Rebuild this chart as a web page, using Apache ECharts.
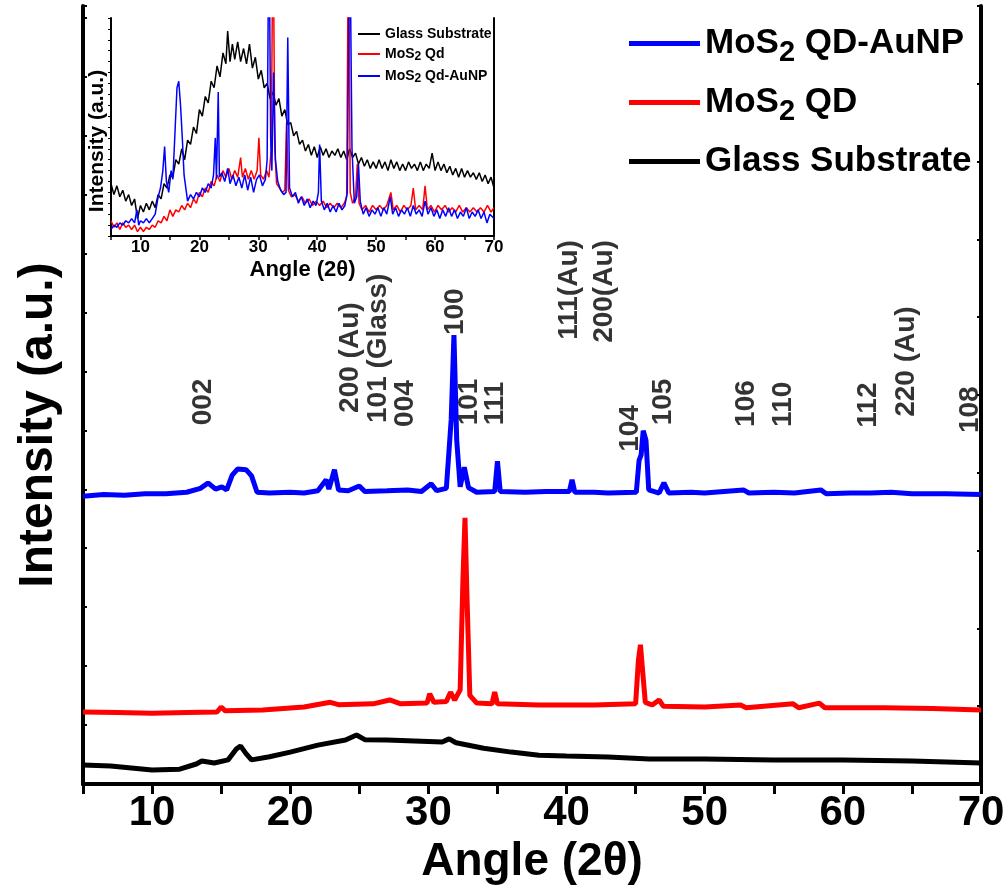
<!DOCTYPE html>
<html>
<head>
<meta charset="utf-8">
<script src="https://cdn.jsdelivr.net/npm/echarts@6/dist/echarts.min.js"></script>
<style>
  html, body { margin: 0; padding: 0; background: #fff; }
  #chart { width: 1008px; height: 890px; }
</style>
</head>
<body>
<div id="chart"></div>
<script>
// main panel data: [angle 2theta, intensity in a.u.]
var auNpMain = [[5,3.70],[6.5,3.72],[8,3.71],[9.5,3.73],[11,3.73],[12.5,3.75],[13.5,3.80],[14.05,3.87],[14.6,3.79],[15.05,3.82],[15.4,3.78],
  [15.8,3.97],[16.2,4.05],[16.8,4.04],[17.2,3.96],[17.6,3.75],[18.5,3.74],[20,3.75],[21,3.74],[22,3.77],[22.6,3.91],[22.8,3.79],[23.2,4.04],
  [23.5,3.78],[24.2,3.77],[25,3.83],[25.4,3.76],[27,3.77],[28.5,3.78],[29.5,3.76],[30.2,3.86],[30.6,3.77],[31.3,3.80],[31.65,4.68],[31.85,5.77],
  [32.05,4.42],[32.3,3.82],[32.6,4.07],[32.9,3.81],[33.5,3.75],[34.8,3.76],[35.0,4.15],[35.2,3.76],[37,3.75],[38.5,3.76],[40.2,3.76],[40.4,3.91],
  [40.6,3.75],[42,3.75],[43,3.74],[45.05,3.75],[45.25,4.16],[45.4,4.23],[45.55,4.54],[45.75,4.42],[45.95,3.78],[46.7,3.74],[47.05,3.87],
  [47.4,3.74],[49,3.75],[50,3.74],[52.8,3.78],[53.2,3.74],[55,3.75],[56.5,3.74],[58.4,3.78],[58.8,3.73],[60.5,3.74],[62,3.74],[63.5,3.75],
  [65,3.73],[67.5,3.73],[70,3.72]];
var qdMain = [[5,0.925],[7.5,0.92],[10,0.91],[12.5,0.92],[14.7,0.925],[15.0,0.99],[15.3,0.94],[18,0.95],[21,0.99],[22.9,1.05],[23.5,1.02],
  [26,1.03],[27.2,1.08],[28,1.03],[29.9,1.04],[30.1,1.16],[30.4,1.05],[31.3,1.06],[31.6,1.18],[31.9,1.08],[32.3,1.21],[32.5,2.62],[32.65,3.42],
  [32.8,2.37],[33.0,1.14],[33.5,1.04],[34.6,1.03],[34.8,1.18],[35.0,1.03],[38,1.015],[42,1.015],[45.0,1.03],[45.2,1.59],[45.35,1.79],
  [45.5,1.47],[45.7,1.05],[46.2,1.015],[46.7,1.08],[47.0,1.00],[50,0.99],[52.6,1.015],[53,0.98],[56.4,1.03],[56.8,0.98],[58.3,1.04],
  [58.7,0.98],[63,0.98],[66.5,0.97],[70,0.95]];
var glassMain = [[5,0.244],[7,0.23],[10,0.18],[12,0.19],[13.2,0.257],[13.6,0.296],[14.5,0.27],[15.5,0.31],[16.1,0.45],[16.4,0.49],[16.8,0.39],
  [17.2,0.31],[18.5,0.35],[20,0.41],[22,0.50],[24,0.566],[24.8,0.63],[25.4,0.57],[27,0.566],[29,0.553],[31,0.54],[31.5,0.58],[32,0.53],
  [34,0.46],[36,0.41],[38,0.37],[40,0.36],[43,0.347],[46,0.32],[50,0.32],[55,0.31],[60,0.31],[65,0.296],[70,0.27]];

// inset panel data
var glassInset = [[5,24],[5.5,19],[6,23],[6.5,18],[7,21],[7.5,16],[8,19],[8.5,14],[9,17],[9.5,8],[10,14],[10.5,11],[11,15],[11.5,12],[12,16],
  [12.5,13],[13,19],[13.5,17],[14,24],[14.5,22],[15,28],[15.5,27],[16,35],[16.5,33],[17,40],[17.5,35],[18,44],[18.5,42],[19,50],[19.5,47],
  [20,58],[20.5,55],[21,64],[21.5,61],[22,71],[22.5,68],[23,78],[23.5,73],[24,84],[24.5,79],[24.8,94],[25.2,80],[25.6,88],[26,81],[26.5,89],
  [27,80],[27.5,86],[28,79],[28.5,88],[29,77],[29.5,82],[30,72],[30.5,76],[31,68],[31.5,70],[32,63],[32.5,66],[33,60],[33.5,63],[34,55],
  [34.5,58],[35,51],[35.5,52],[36,46],[36.5,48],[37,42],[37.5,44],[38,39],[38.5,42],[39,37],[39.5,41],[40,36],[40.5,41],[41,37],[41.5,40],
  [42,36],[42.5,39],[43,37],[43.5,40],[44,36],[44.5,39],[45,35],[45.5,40],[46,36],[46.5,38],[47,33],[47.5,36],[48,32],[48.5,35],[49,31],
  [49.5,34],[50,31],[50.5,35],[51,31],[51.5,34],[52,30],[52.5,35],[53,31],[53.5,34],[54,30],[54.5,33],[55,30],[55.5,34],[56,31],[56.5,33],
  [57,30],[57.5,34],[58,30],[58.5,33],[59,31],[59.5,38],[60,30],[60.5,34],[61,30],[61.5,33],[62,29],[62.5,32],[63,28],[63.5,31],[64,27],
  [64.5,31],[65,27],[65.5,30],[66,27],[66.5,29],[67,26],[67.5,29],[68,25],[68.5,28],[69,24],[69.5,27],[70,22]];
var qdInset = [[5,7],[5.5,4],[6,6],[6.5,3],[7,6],[7.5,4],[8,5],[8.5,3],[9,5],[9.5,2],[10,4],[10.5,2],[11,4],[11.5,3],[12,5],[12.5,4],[13,7],
  [13.5,6],[14,9],[14.5,7],[15,12],[15.5,9],[16,12],[16.5,11],[17,14],[17.5,12],[18,15],[18.5,13],[19,17],[19.5,15],[20,20],[20.5,18],[21,22],
  [21.5,20],[22,25],[22.5,23],[23,28],[23.5,25],[24,30],[24.5,27],[25,31],[25.5,26],[26,30],[26.5,27],[27,36],[27.3,27],[27.8,31],[28.3,26],
  [28.8,30],[29.3,26],[29.8,30],[30.1,45],[30.4,28],[30.9,26],[31.4,30],[31.8,27],[32.2,40],[32.5,150],[32.8,40],[33.1,24],[33.6,22],
  [34.1,20],[34.5,21],[34.8,52],[35.1,21],[35.6,18],[36.2,19],[36.8,16],[37.4,18],[38,15],[38.6,17],[39.2,14],[39.8,16],[40.4,14],[41,16],
  [41.6,13],[42.2,15],[42.8,13],[43.4,15],[44,13],[44.6,15],[45.0,18],[45.3,150],[45.6,20],[46,15],[46.5,18],[46.8,33],[47.1,15],[47.6,12],
  [48.2,14],[48.8,11],[49.4,14],[50,12],[50.6,14],[51.2,12],[51.8,14],[52.5,20],[52.9,12],[53.5,14],[54.1,11],[54.7,14],[55.3,12],[55.9,14],
  [56.3,22],[56.7,12],[57.3,14],[57.9,12],[58.3,23],[58.7,12],[59.3,14],[59.9,11],[60.5,14],[61.1,12],[61.7,14],[62.3,11],[62.9,13],
  [63.5,11],[64.1,14],[64.7,11],[65.3,13],[65.9,11],[66.5,13],[67.1,11],[67.7,13],[68.3,11],[68.9,14],[69.5,11],[70,13]];
var auNpInset = [[5,3],[5.5,5],[6,4],[6.5,6],[7,5],[7.5,7],[8,6],[8.5,8],[9,6],[9.4,12],[9.7,5],[10,7],[10.5,6],[11,8],[11.5,6],[12,8],
  [12.5,10],[13,18],[13.4,22],[13.8,30],[14.1,41],[14.4,25],[14.8,20],[15.2,30],[15.5,26],[15.9,50],[16.2,68],[16.5,71],[16.8,60],[17.1,45],
  [17.4,28],[17.7,22],[18,16],[18.5,19],[19,17],[19.5,20],[20,18],[20.5,22],[21,20],[21.5,24],[22,22],[22.4,28],[22.7,45],[22.9,26],[23.2,66],
  [23.4,27],[23.8,29],[24.3,25],[24.8,31],[25.2,24],[25.7,28],[26.2,23],[26.7,27],[27.2,22],[27.7,28],[28.2,21],[28.7,27],[29.2,20],[29.7,26],
  [30.2,28],[30.7,23],[31.2,26],[31.5,35],[31.8,150],[32.1,45],[32.3,30],[32.6,75],[32.9,35],[33.3,25],[33.8,21],[34.3,19],[34.7,20],
  [35.0,91],[35.3,22],[35.8,18],[36.3,20],[36.8,15],[37.3,18],[37.8,14],[38.3,17],[38.8,13],[39.3,16],[39.8,14],[40.2,20],[40.4,42],
  [40.7,16],[41.2,12],[41.7,15],[42.2,11],[42.7,14],[43.2,11],[43.7,15],[44.2,12],[44.7,14],[45.1,20],[45.5,150],[45.9,40],[46.3,15],
  [46.7,18],[47.0,33],[47.3,16],[47.8,10],[48.3,13],[48.8,9],[49.3,12],[49.8,10],[50.3,13],[50.8,9],[51.3,13],[51.8,10],[52.4,18],[52.8,10],
  [53.3,13],[53.8,9],[54.3,12],[54.8,10],[55.3,13],[55.8,9],[56.3,14],[56.8,10],[57.3,12],[57.8,9],[58.3,16],[58.8,10],[59.3,13],[59.8,9],
  [60.3,12],[60.8,8],[61.3,12],[61.8,9],[62.3,13],[62.8,9],[63.3,12],[63.8,8],[64.3,11],[64.8,9],[65.3,13],[65.8,8],[66.3,11],[66.8,9],
  [67.3,12],[67.8,8],[68.3,11],[68.8,6],[69.3,10],[70,8]];

// peak indexing labels: name, angle, height where the text starts
var peakNames = ['002', '200 (Au)', '101 (Glass)', '004', '100', '101', '111', '111(Au)', '200(Au)', '104', '105', '106', '110', '112', '220 (Au)', '108'];
var peakAngles = [13.69, 24.33, 26.35, 28.31, 31.93, 32.94, 34.82, 40.18, 42.71, 44.59, 46.98, 52.99, 55.67, 61.82, 64.57, 69.2];
var peakLevels = [4.61, 4.77, 4.64, 4.59, 5.77, 4.61, 4.61, 5.71, 5.67, 4.27, 4.61, 4.59, 4.59, 4.58, 4.72, 4.51];

var xTicks = [10, 20, 30, 40, 50, 60, 70];

var chart = echarts.init(document.getElementById('chart'));

var legendNames = {
  'MoS2 QD-AuNP': '{n|MoS}{s|2}{n| QD-AuNP}',
  'MoS2 QD': '{n|MoS}{s|2}{n| QD}',
  'Glass Substrate': '{n|Glass Substrate}',
  'inset glass': '{n|Glass Substrate}',
  'inset qd': '{n|MoS}{s|2}{n| Qd}',
  'inset aunp': '{n|MoS}{s|2}{n| Qd-AuNP}'
};

function tickText(v) {
  return xTicks.indexOf(v) >= 0 ? String(v) : '';
}

var font = 'Liberation Sans, Arial, sans-serif';

chart.setOption({
  animation: false,
  backgroundColor: '#fff',
  legend: [
    {
      data: ['MoS2 QD-AuNP', 'MoS2 QD', 'Glass Substrate'],
      orient: 'vertical',
      left: 624,
      top: 21,
      itemWidth: 71,
      itemHeight: 5,
      itemGap: 18,
      icon: 'rect',
      formatter: function (name) { return legendNames[name]; },
      textStyle: {
        rich: {
          n: { fontSize: 35, fontWeight: 'bold', fontFamily: font, color: '#000' },
          s: { fontSize: 29, fontWeight: 'bold', fontFamily: font, color: '#000', padding: [18, 0, 0, 0] }
        }
      }
    },
    {
      data: ['inset glass', 'inset qd', 'inset aunp'],
      orient: 'vertical',
      left: 353,
      top: 22,
      itemWidth: 22,
      itemHeight: 2,
      itemGap: 6,
      icon: 'rect',
      formatter: function (name) { return legendNames[name]; },
      textStyle: {
        rich: {
          n: { fontSize: 14, fontWeight: 'bold', fontFamily: font, color: '#000' },
          s: { fontSize: 12, fontWeight: 'bold', fontFamily: font, color: '#000', padding: [6, 0, 0, 0] }
        }
      }
    }
  ],
  grid: [
    { left: 83, right: 27, top: 6, bottom: 106 },
    { left: 111, top: 18, width: 383, height: 218, show: true, backgroundColor: '#fff', borderWidth: 0, z: 3 }
  ],
  xAxis: [
    {
      gridIndex: 0, type: 'value', min: 5, max: 70, interval: 5,
      name: 'Angle (2θ)', nameLocation: 'middle', nameGap: 48,
      nameTextStyle: { fontSize: 46, fontWeight: 'bold', fontFamily: font, color: '#000' },
      axisLine: { lineStyle: { color: '#000', width: 4 } },
      axisTick: { length: 10, lineStyle: { color: '#000', width: 3 } },
      axisLabel: { formatter: tickText, fontSize: 42, fontWeight: 'bold', fontFamily: font, color: '#000', margin: 8 },
      splitLine: { show: false }
    },
    {
      gridIndex: 0, type: 'value', min: 5, max: 70, position: 'top',
      axisLine: { lineStyle: { color: '#000', width: 4 } },
      axisTick: { show: false }, axisLabel: { show: false }, splitLine: { show: false }
    },
    {
      gridIndex: 1, type: 'value', min: 5, max: 70, interval: 5,
      name: 'Angle (2θ)', nameLocation: 'middle', nameGap: 23,
      nameTextStyle: { fontSize: 22, fontWeight: 'bold', fontFamily: font, color: '#000' },
      axisLine: { lineStyle: { color: '#000', width: 2 } },
      axisTick: { length: 4, lineStyle: { color: '#000', width: 1.5 } },
      axisLabel: { formatter: tickText, fontSize: 17, fontWeight: 'bold', fontFamily: font, color: '#000', margin: 3 },
      splitLine: { show: false }, z: 4
    },
    {
      gridIndex: 1, type: 'value', min: 5, max: 70, position: 'top',
      axisLine: { lineStyle: { color: '#000', width: 2 } },
      axisTick: { show: false }, axisLabel: { show: false }, splitLine: { show: false }, z: 4
    }
  ],
  yAxis: [
    {
      gridIndex: 0, type: 'value', min: 0, max: 13.2, interval: 1, position: 'left',
      name: 'Intensity (a.u.)', nameLocation: 'middle', nameGap: 20,
      nameTextStyle: { fontSize: 48, fontWeight: 'bold', fontFamily: font, color: '#000', padding: [0, 60, 0, 0] },
      axisLine: { show: true, lineStyle: { color: '#000', width: 4 } },
      axisTick: { inside: true, length: 4, lineStyle: { color: '#000', width: 2 } },
      axisLabel: { show: false }, splitLine: { show: false }
    },
    {
      gridIndex: 0, type: 'value', min: 0, max: 10, interval: 1, position: 'right',
      axisLine: { show: true, lineStyle: { color: '#000', width: 4 } },
      axisTick: { inside: true, length: 4, lineStyle: { color: '#000', width: 2 } },
      axisLabel: { show: false }, splitLine: { show: false }
    },
    {
      gridIndex: 1, type: 'value', min: 0, max: 100, interval: 5, position: 'left',
      name: 'Intensity (a.u.)', nameLocation: 'middle', nameGap: 3,
      nameTextStyle: { fontSize: 21, fontWeight: 'bold', fontFamily: font, color: '#000', padding: [0, 28, 0, 0] },
      axisLine: { show: true, lineStyle: { color: '#000', width: 2 } },
      axisTick: { length: 3, lineStyle: { color: '#000', width: 1 } },
      axisLabel: { show: false }, splitLine: { show: false }, z: 4
    },
    {
      gridIndex: 1, type: 'value', min: 0, max: 100, position: 'right',
      axisLine: { show: true, lineStyle: { color: '#000', width: 2 } },
      axisTick: { show: false }, axisLabel: { show: false }, splitLine: { show: false }, z: 4
    }
  ],
  series: [
    { name: 'Glass Substrate', type: 'line', xAxisIndex: 0, yAxisIndex: 1, data: glassMain, showSymbol: false,
      lineStyle: { color: '#000', width: 5 }, itemStyle: { color: '#000' } },
    { name: 'MoS2 QD', type: 'line', xAxisIndex: 0, yAxisIndex: 1, data: qdMain, showSymbol: false,
      lineStyle: { color: '#ff0000', width: 5 }, itemStyle: { color: '#ff0000' } },
    { name: 'MoS2 QD-AuNP', type: 'line', xAxisIndex: 0, yAxisIndex: 1, data: auNpMain, showSymbol: false,
      lineStyle: { color: '#0000ff', width: 5 }, itemStyle: { color: '#0000ff' } },
    { name: 'inset glass', type: 'line', xAxisIndex: 2, yAxisIndex: 2, data: glassInset, showSymbol: false, z: 5,
      lineStyle: { color: '#000', width: 1.5 }, itemStyle: { color: '#000' } },
    { name: 'inset qd', type: 'line', xAxisIndex: 2, yAxisIndex: 2, data: qdInset, showSymbol: false, z: 5,
      lineStyle: { color: '#ff0000', width: 1.5 }, itemStyle: { color: '#ff0000' } },
    { name: 'inset aunp', type: 'line', xAxisIndex: 2, yAxisIndex: 2, data: auNpInset, showSymbol: false, z: 5,
      lineStyle: { color: '#0000ff', width: 1.5 }, itemStyle: { color: '#0000ff' } },
    {
      name: 'peaks', type: 'scatter', xAxisIndex: 0, yAxisIndex: 1, symbolSize: 0, silent: true,
      data: peakNames.map(function (n, i) { return { name: n, value: [peakAngles[i], peakLevels[i]] }; }),
      label: {
        show: true, formatter: '{b}', position: [0, 0], rotate: 90, align: 'left', verticalAlign: 'middle',
        fontSize: 28, fontWeight: 'bold', fontFamily: font, color: '#000'
      }
    }
  ]
});
</script>
</body>
</html>
